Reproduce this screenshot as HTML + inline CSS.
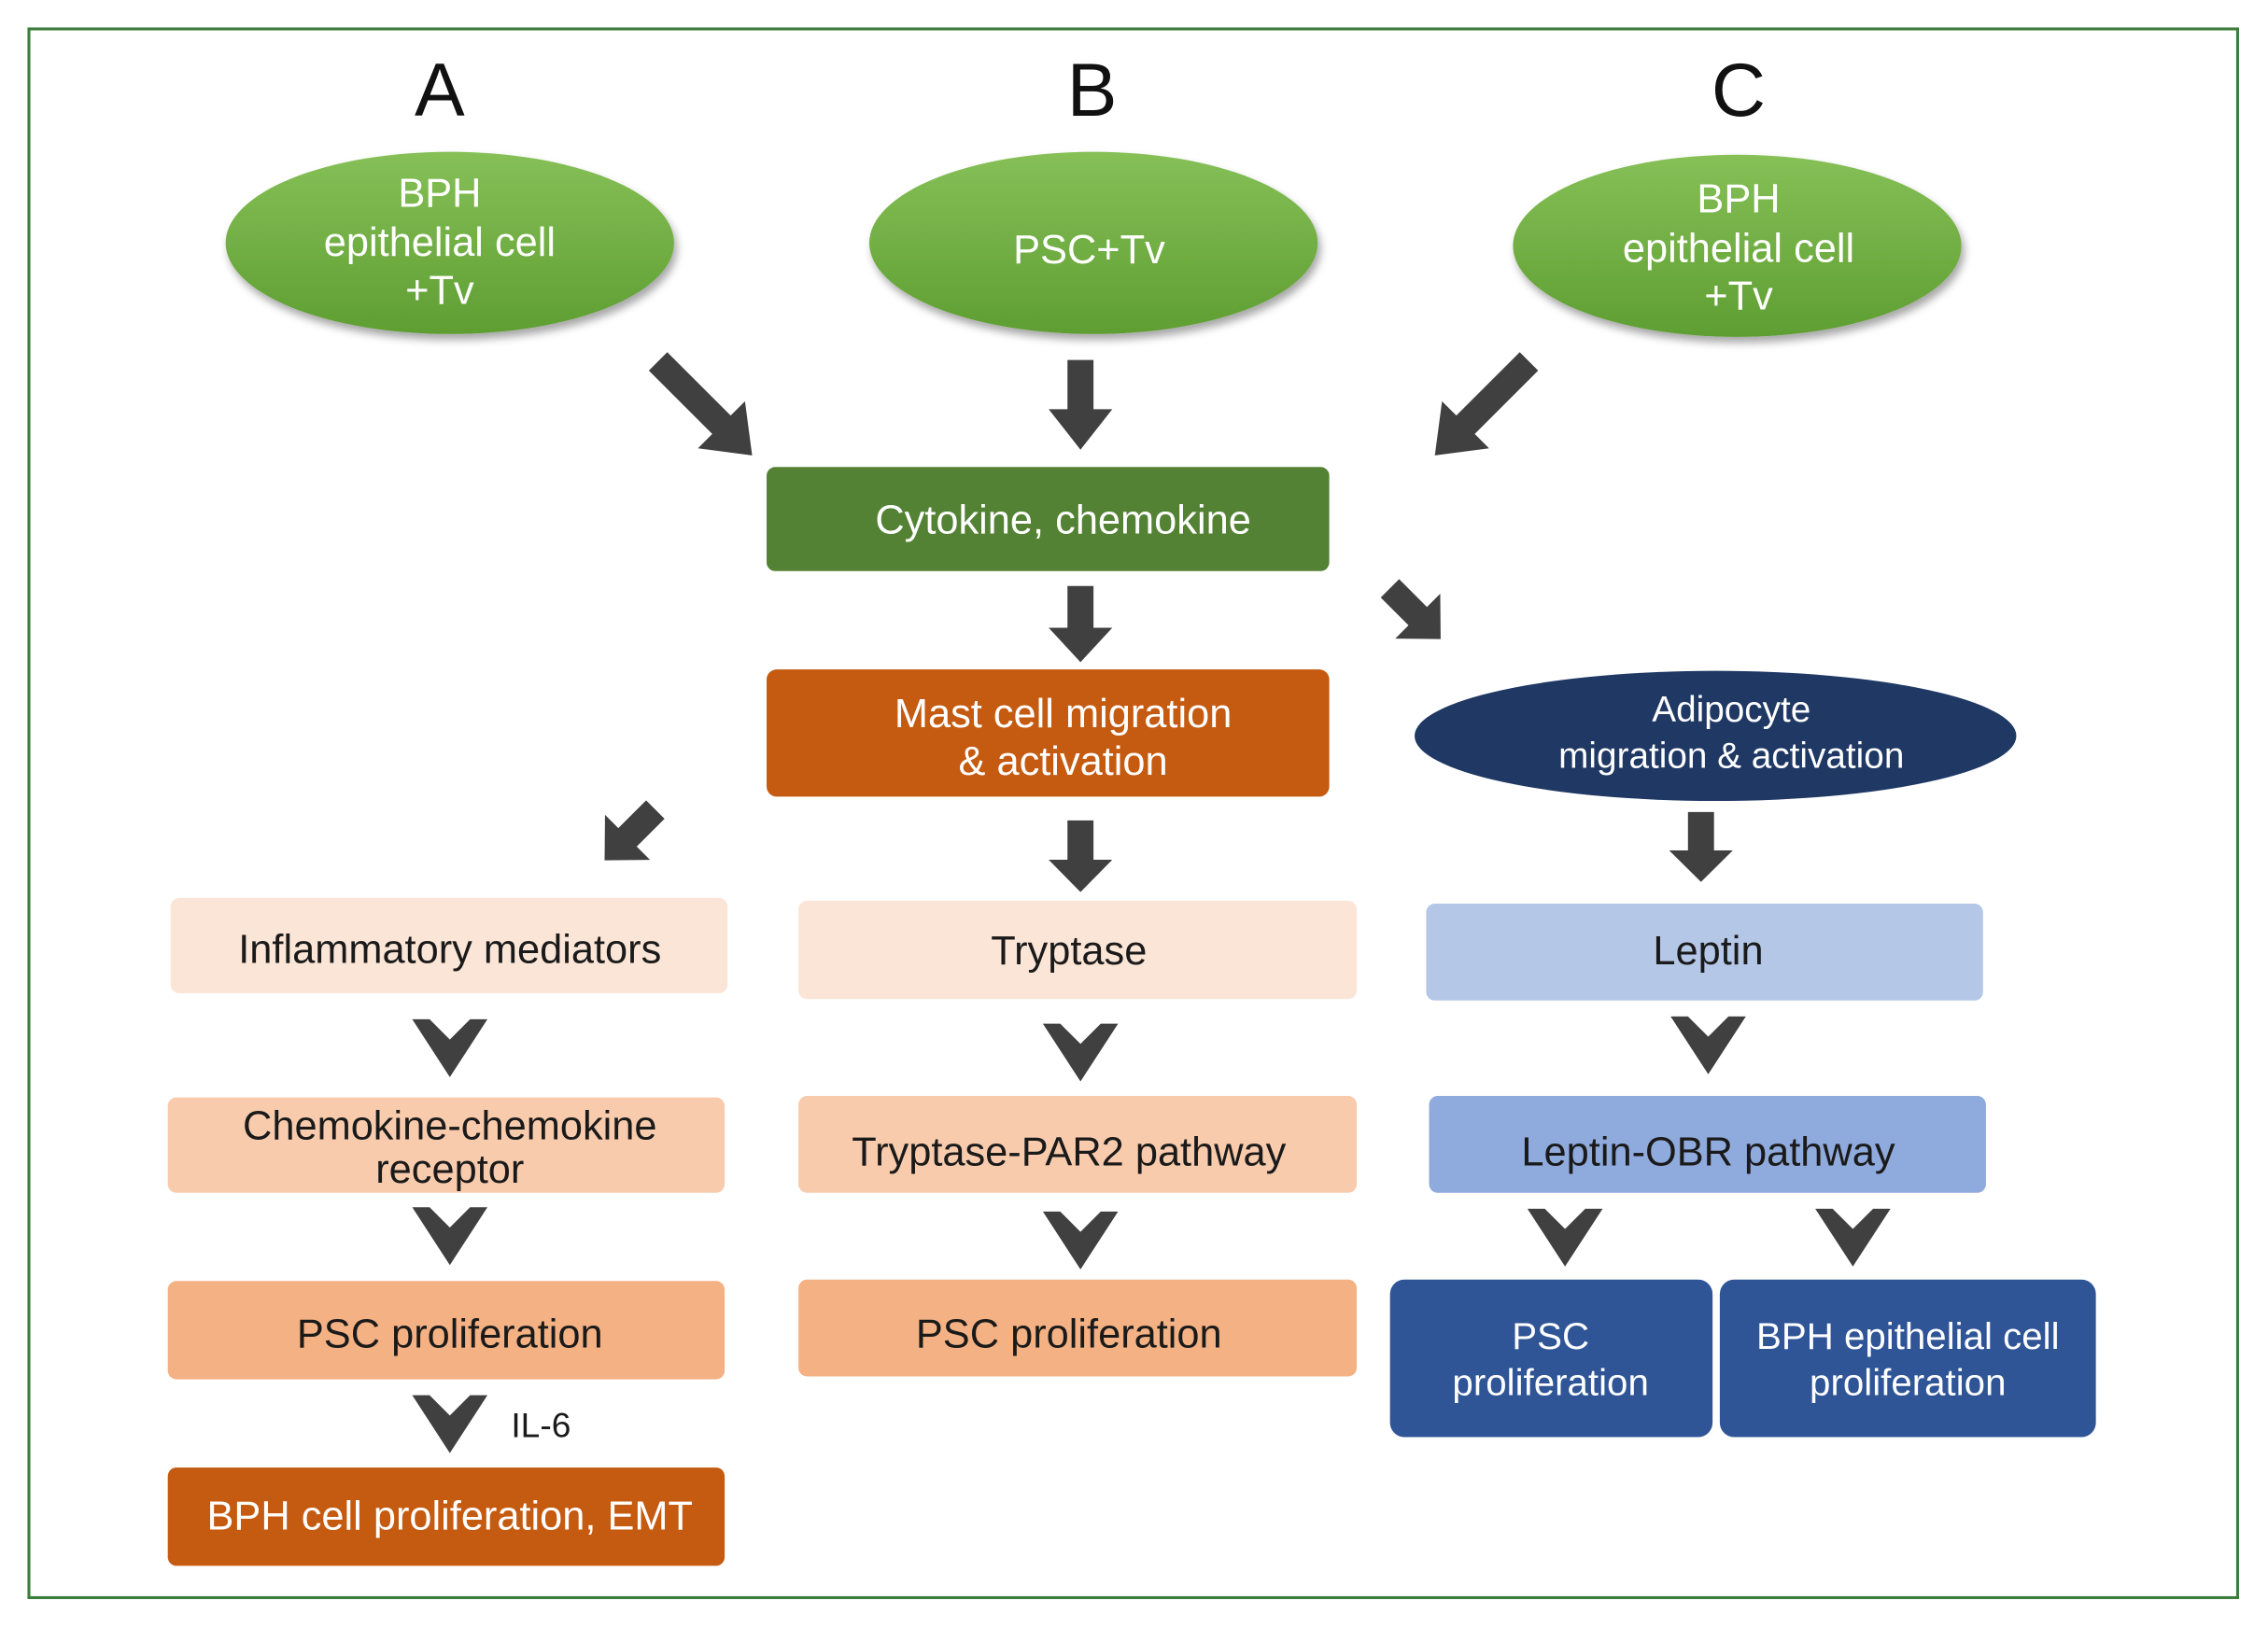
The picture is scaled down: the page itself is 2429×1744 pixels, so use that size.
<!DOCTYPE html>
<html><head><style>html,body{margin:0;padding:0;background:#fff}svg{display:block}</style></head>
<body>
<svg width="2429" height="1744" viewBox="0 0 1568 1126" preserveAspectRatio="none" xmlns="http://www.w3.org/2000/svg" font-family="Liberation Sans, Arial, sans-serif">
<defs>
<linearGradient id="g" x1="0" y1="0" x2="0" y2="1"><stop offset="0" stop-color="#86c057"/><stop offset="1" stop-color="#5e9e32"/></linearGradient>
<filter id="sh" x="-20%" y="-20%" width="140%" height="150%"><feDropShadow dx="2" dy="4" stdDeviation="3" flood-color="#000" flood-opacity="0.35"/></filter>
<path id="arrow" d="M-9,-62 L9,-62 L9,-28 L22,-28 L0,0 L-22,-28 L-9,-28 Z"/>
<path id="arrowL" d="M-9,-92 L9,-92 L9,-30 L23,-30 L0,0 L-23,-30 L-9,-30 Z"/>
<path id="chev" d="M-26,-20 L-14,-20 L0,-6 L14,-20 L26,-20 L0,20 Z"/>
</defs>
<rect x="20" y="20" width="1527" height="1085" fill="none" stroke="#3b7d3b" stroke-width="2"/>
<g font-size="52" text-anchor="middle" fill="#111">
<text x="304" y="80">A</text><text x="755" y="80">B</text><text x="1202" y="80">C</text></g>
<g filter="url(#sh)" fill="url(#g)">
<ellipse cx="311" cy="168" rx="155" ry="63"/>
<ellipse cx="756" cy="168" rx="155" ry="63"/>
<ellipse cx="1201" cy="170" rx="155" ry="63"/>
</g>
<g fill="#fff" font-size="28" text-anchor="middle">
<text x="304" y="143">BPH</text><text x="304" y="177">epithelial cell</text><text x="304" y="210">+Tv</text>
<text x="753" y="182">PSC+Tv</text>
<text x="1202" y="147">BPH</text><text x="1202" y="181">epithelial cell</text><text x="1202" y="214">+Tv</text>
</g>
<g fill="#404040">
<use href="#arrowL" transform="translate(520,315) rotate(-45)"/>
<use href="#arrow" transform="translate(747,311)"/>
<use href="#arrowL" transform="translate(992,315) rotate(45)"/>
<use href="#arrow" transform="translate(747,458) scale(1,0.85)"/>
<use href="#arrow" transform="translate(996,442) rotate(-45) scale(1,0.8)"/>
<use href="#arrow" transform="translate(418,595) rotate(45) scale(1,0.8)"/>
<use href="#arrow" transform="translate(747,617) scale(1,0.8)"/>
<use href="#arrow" transform="translate(1176,610) scale(1,0.78)"/>
<use href="#chev" transform="translate(311,725)"/>
<use href="#chev" transform="translate(747,728)"/>
<use href="#chev" transform="translate(1181,723)"/>
<use href="#chev" transform="translate(311,855)"/>
<use href="#chev" transform="translate(747,858)"/>
<use href="#chev" transform="translate(1082,856)"/>
<use href="#chev" transform="translate(1281,856)"/>
<use href="#chev" transform="translate(311,985)"/>
</g>
<rect x="530" y="323" width="389" height="72" rx="6" fill="#548235"/>
<text x="735" y="369" fill="#fff" font-size="28" text-anchor="middle">Cytokine, chemokine</text>
<rect x="530" y="463" width="389" height="88" rx="7" fill="#c55a11"/>
<text x="735" y="503" fill="#fff" font-size="28" text-anchor="middle">Mast cell migration</text>
<text x="735" y="536" fill="#fff" font-size="28" text-anchor="middle">&amp; activation</text>
<ellipse cx="1186" cy="509" rx="208" ry="45" fill="#1f3864"/>
<text x="1197" y="499" fill="#fff" font-size="25" text-anchor="middle">Adipocyte</text>
<text x="1197" y="531" fill="#fff" font-size="25" text-anchor="middle">migration &amp; activation</text>
<g font-size="28" text-anchor="middle" fill="#1a1a1a">
<rect x="118" y="621" width="385" height="66" rx="6" fill="#fbe5d6"/>
<text x="311" y="666">Inflammatory mediators</text>
<rect x="552" y="623" width="386" height="68" rx="6" fill="#fbe5d6"/>
<text x="739" y="667">Tryptase</text>
<rect x="986" y="625" width="385" height="67" rx="6" fill="#b4c7e7"/>
<text x="1181" y="667">Leptin</text>
<rect x="116" y="759" width="385" height="66" rx="6" fill="#f8cbad"/>
<text x="311" y="788">Chemokine-chemokine</text><text x="311" y="818">receptor</text>
<rect x="552" y="758" width="386" height="67" rx="6" fill="#f8cbad"/>
<text x="739" y="806">Tryptase-PAR2 pathway</text>
<rect x="988" y="758" width="385" height="67" rx="6" fill="#8faadc"/>
<text x="1181" y="806">Leptin-OBR pathway</text>
<rect x="116" y="886" width="385" height="68" rx="6" fill="#f4b183"/>
<text x="311" y="932">PSC proliferation</text>
<rect x="552" y="885" width="386" height="67" rx="6" fill="#f4b183"/>
<text x="739" y="932">PSC proliferation</text>
<text x="374" y="994" font-size="24">IL-6</text>
</g>
<rect x="961" y="885" width="223" height="109" rx="10" fill="#2f5597"/>
<rect x="1189" y="885" width="260" height="109" rx="10" fill="#2f5597"/>
<g fill="#fff" font-size="26" text-anchor="middle">
<text x="1072" y="933">PSC</text><text x="1072" y="965">proliferation</text>
<text x="1319" y="933">BPH epithelial cell</text><text x="1319" y="965">proliferation</text>
</g>
<rect x="116" y="1015" width="385" height="68" rx="6" fill="#c55a11"/>
<text x="311" y="1058" fill="#fff" font-size="28" text-anchor="middle">BPH cell proliferation, EMT</text>
</svg>
</body></html>
